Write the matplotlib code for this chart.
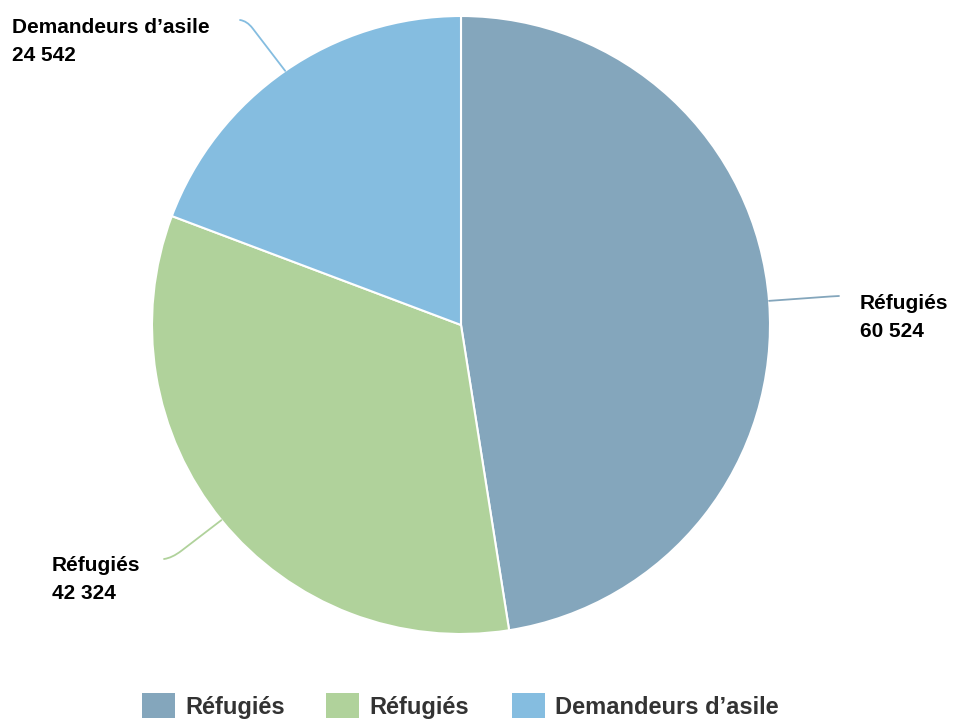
import numpy as np
import matplotlib
matplotlib.use("Agg")
import matplotlib.pyplot as plt
from matplotlib.path import Path
from matplotlib.patches import PathPatch, Rectangle

plt.rcParams['font.family'] = ['Liberation Sans', 'DejaVu Sans']

# data
labels = ["Réfugiés", "Réfugiés", "Demandeurs d’asile"]
values = [60524, 42324, 24542]
value_text = ["60 524", "42 324", "24 542"]
colors = ["#84a6bc", "#b0d29b", "#85bde0"]

W, H = 957, 722
fig = plt.figure(figsize=(W / 100, H / 100), dpi=100)
ax = fig.add_axes([0, 0, 1, 1])

def Y(py):
    return H - py

cx, cy, r = 461, Y(325), 309
wedges, _ = ax.pie(values, colors=colors, startangle=90, counterclock=False,
                   center=(cx, cy), radius=r,
                   wedgeprops=dict(edgecolor="white", linewidth=1.5))

# label layout: (text x, first baseline y, connector end, curve control, bend dist)
label_pos = [
    (860, 309, (839, 296), (830, 296.5), 0),
    (52, 571, (164, 559), (172, 558), 12),
    (12, 33, (240, 20), (247, 21), 9),
]

for w, lab, vt, col, (tx, ty, end, ctrl, bd) in zip(wedges, labels, value_text, colors, label_pos):
    mid = np.deg2rad((w.theta1 + w.theta2) / 2)
    px, py = cx + r * np.cos(mid), cy + r * np.sin(mid)
    ex, ey = end[0], Y(end[1])
    qx, qy = ctrl[0], Y(ctrl[1])
    d = np.hypot(px - qx, py - qy)
    bx, by = qx + (px - qx) * bd / d, qy + (py - qy) * bd / d
    path = Path([(px, py), (bx, by), (qx, qy), (ex, ey)],
                [Path.MOVETO, Path.LINETO, Path.CURVE3, Path.CURVE3])
    ax.add_patch(PathPatch(path, facecolor="none", edgecolor=col, lw=1.3,
                           capstyle="round", joinstyle="round"))
    ax.text(tx, Y(ty), lab, fontsize=15, fontweight="bold", color="black",
            ha="left", va="baseline")
    ax.text(tx, Y(ty + 28), vt, fontsize=15, fontweight="bold", color="black",
            ha="left", va="baseline")

# legend
leg_x = [142, 326, 512]
for lx, lab, col in zip(leg_x, labels, colors):
    ax.add_patch(Rectangle((lx, Y(718)), 33, 25, facecolor=col, edgecolor="none"))
    ax.text(lx + 43, Y(714), lab, fontsize=17, fontweight="bold", color="#333333",
            ha="left", va="baseline")

ax.set_xlim(0, W)
ax.set_ylim(0, H)
ax.set_aspect("auto")
ax.axis("off")

fig.savefig("out.png", dpi=100)
